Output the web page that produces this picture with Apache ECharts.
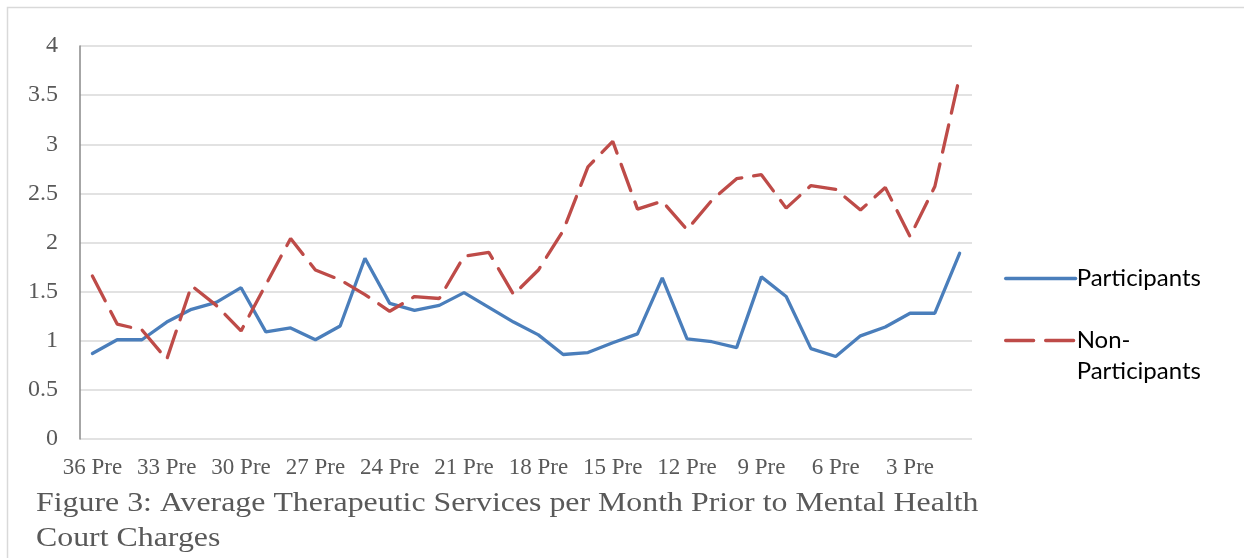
<!DOCTYPE html>
<html>
<head>
<meta charset="utf-8">
<script src="https://cdn.jsdelivr.net/npm/echarts@6/dist/echarts.min.js"></script>
<style>
  html, body { margin: 0; padding: 0; background: #fff; }
  #chart { width: 1244px; height: 558px; }
</style>
</head>
<body>
<div id="chart"></div>
<script>
// Months before the mental health court charge, oldest first
const months = [
  '36 Pre', '35 Pre', '34 Pre', '33 Pre', '32 Pre', '31 Pre', '30 Pre', '29 Pre', '28 Pre',
  '27 Pre', '26 Pre', '25 Pre', '24 Pre', '23 Pre', '22 Pre', '21 Pre', '20 Pre', '19 Pre',
  '18 Pre', '17 Pre', '16 Pre', '15 Pre', '14 Pre', '13 Pre', '12 Pre', '11 Pre', '10 Pre',
  '9 Pre', '8 Pre', '7 Pre', '6 Pre', '5 Pre', '4 Pre', '3 Pre', '2 Pre', '1 Pre'
];

// Average therapeutic services per month
const participants = [
  0.87, 1.01, 1.01, 1.19, 1.32, 1.39, 1.54, 1.09, 1.13,
  1.01, 1.15, 1.84, 1.38, 1.31, 1.36, 1.49, 1.34, 1.19,
  1.06, 0.86, 0.88, 0.98, 1.07, 1.64, 1.02, 0.99, 0.93,
  1.65, 1.45, 0.92, 0.84, 1.05, 1.14, 1.28, 1.28, 1.89
];
const nonParticipants = [
  1.66, 1.17, 1.11, 0.81, 1.56, 1.36, 1.10, 1.57, 2.04,
  1.72, 1.62, 1.47, 1.30, 1.45, 1.43, 1.86, 1.90, 1.47,
  1.72, 2.12, 2.77, 3.03, 2.34, 2.42, 2.13, 2.43, 2.65,
  2.69, 2.35, 2.58, 2.54, 2.33, 2.56, 2.06, 2.57, 3.69
];

const yTicks = { min: 0, max: 4, interval: 0.5 };

const serif = '"Liberation Serif", "Times New Roman", serif';
const sans = 'Lato, "Open Sans", sans-serif';
const textGrey = '#595959';

const chart = echarts.init(document.getElementById('chart'), null, { renderer: 'canvas' });

const legendCommon = {
  orient: 'vertical',
  left: 999,
  itemWidth: 70,
  itemHeight: 14,
  itemGap: 0,
  itemStyle: { opacity: 0 },
  lineStyle: { width: 3.3, cap: 'round' },
  textStyle: { fontFamily: sans, fontSize: 24, lineHeight: 31, color: '#000', padding: [0, 0, 0, -4] }
};

chart.setOption({
  animation: false,
  backgroundColor: '#ffffff',
  grid: { left: 80, right: 272, top: 46, bottom: 119, containLabel: false },
  xAxis: {
    type: 'category',
    data: months,
    boundaryGap: true,
    axisLine: { show: false },
    axisTick: { show: false },
    axisLabel: {
      interval: 2,
      color: textGrey,
      fontFamily: serif,
      fontSize: 23,
      margin: 17
    },
    splitLine: { show: false }
  },
  yAxis: {
    type: 'value',
    min: yTicks.min,
    max: yTicks.max,
    interval: yTicks.interval,
    axisLine: { show: true, lineStyle: { color: '#898989', width: 1.5 } },
    axisTick: { show: false },
    axisLabel: {
      color: textGrey,
      fontFamily: serif,
      fontSize: 24,
      margin: 22
    },
    splitLine: { show: true, lineStyle: { color: '#d9d9d9', width: 1.5 } }
  },
  legend: [
    Object.assign({}, legendCommon, {
      top: 258,
      data: ['Participants']
    }),
    Object.assign({}, legendCommon, {
      top: 289,
      data: ['Non-Participants'],
      formatter: function () { return '\nNon-\nParticipants'; }
    })
  ],
  series: [
    {
      name: 'Participants',
      type: 'line',
      data: participants,
      symbol: 'none',
      lineStyle: { color: '#4a7ebb', width: 3.3, cap: 'round' },
      itemStyle: { color: '#4a7ebb' }
    },
    {
      name: 'Non-Participants',
      type: 'line',
      data: nonParticipants,
      symbol: 'none',
      lineStyle: { color: '#be4b48', width: 3.3, type: [28, 12], cap: 'round' },
      itemStyle: { color: '#be4b48' }
    }
  ],
  graphic: [
    {
      type: 'rect',
      shape: { x: 7.5, y: 7.5, width: 1300, height: 600 },
      style: { fill: 'none', stroke: '#d9d9d9', lineWidth: 1.5 },
      silent: true
    },
    {
      type: 'text',
      x: 36,
      y: 486,
      scaleX: 1.18,
      style: {
        text: 'Figure 3: Average Therapeutic Services per Month Prior to Mental Health\nCourt Charges',
        fontFamily: serif,
        fontSize: 27,
        lineHeight: 35,
        fill: textGrey
      }
    }
  ]
});
</script>
</body>
</html>
